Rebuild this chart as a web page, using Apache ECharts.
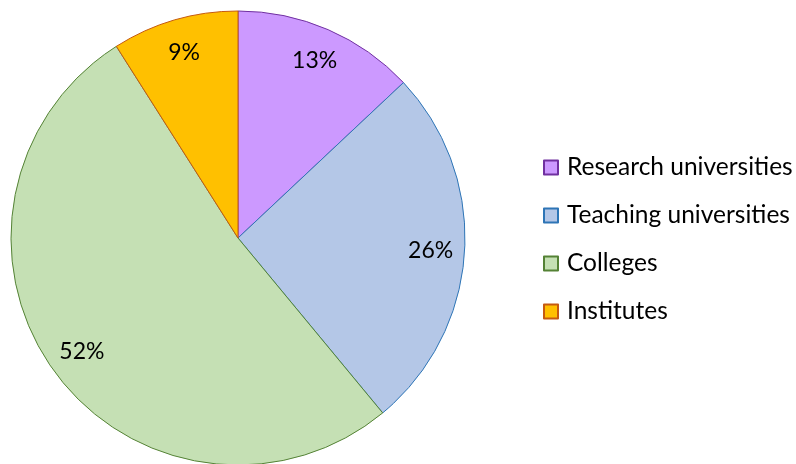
<!DOCTYPE html>
<html><head><meta charset="utf-8">
<script src="https://cdn.jsdelivr.net/npm/echarts@6/dist/echarts.min.js"></script>
<style>html,body{margin:0;padding:0;background:#fff}#c{width:796px;height:464px}</style>
</head><body><div id="c"></div>
<script>
const categories = ['Research universities', 'Teaching universities', 'Colleges', 'Institutes'];
const shares = [13, 26, 52, 9];
const fills = ['#CC99FF', '#B4C7E7', '#C5E0B4', '#FFC000'];
const borders = ['#7030A0', '#2E75B6', '#548235', '#C55A11'];
const FONT = 'Lato, "Open Sans", sans-serif';

const chart = echarts.init(document.getElementById('c'), null, {renderer: 'canvas'});
const mainData = categories.map((n, i) => ({
  name: n, value: shares[i],
  itemStyle: {color: fills[i], borderColor: borders[i], borderWidth: 1}
}));
const labelData = categories.map((n, i) => ({name: n, value: shares[i]}));
chart.setOption({
  animation: false,
  legend: {
    orient: 'vertical', left: 538, top: 150,
    itemWidth: 14, itemHeight: 14, itemGap: 23,
    icon: 'rect',
    data: categories,
    textStyle: {fontFamily: FONT, fontSize: 24.5, color: '#000', lineHeight: 24, padding: [0,0,0,4]}
  },
  series: [{
    type: 'pie', center: [238, 238], radius: [0, 227],
    startAngle: 90, clockwise: true, silent: true,
    label: {show: false}, labelLine: {show: false},
    data: mainData
  }, {
    type: 'pie', center: [238, 238], radius: [153, 227],
    startAngle: 90, clockwise: true, silent: true,
    itemStyle: {color: 'rgba(0,0,0,0)', borderWidth: 0},
    label: {show: true, position: 'inside', formatter: '{c}%', fontFamily: FONT, fontSize: 23, color: '#000'},
    labelLine: {show: false},
    data: labelData
  }]
});
</script></body></html>
